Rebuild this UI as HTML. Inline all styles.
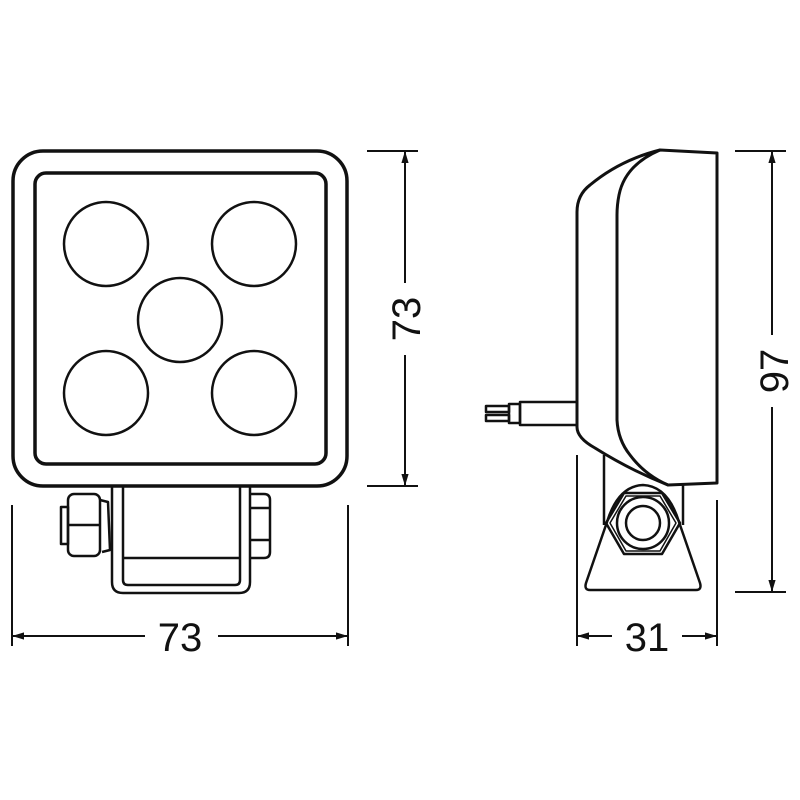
<!DOCTYPE html>
<html><head><meta charset="utf-8"><style>html,body{margin:0;padding:0;background:#fff}svg{display:block}</style></head>
<body>
<svg width="800" height="800" viewBox="0 0 800 800" xmlns="http://www.w3.org/2000/svg" fill="none" stroke="#111" stroke-linejoin="round">
<defs>
<marker id="a" markerWidth="12" markerHeight="20" refX="20" refY="6" viewBox="0 0 20 12" markerUnits="userSpaceOnUse" orient="auto-start-reverse"><path d="M0,0 L20,6 L0,12 Z" fill="#111" stroke="none"/></marker>
</defs>
<!-- front view -->
<rect x="13" y="151" width="334" height="335" rx="30" stroke-width="3.5"/>
<rect x="35" y="173" width="291" height="291" rx="11" stroke-width="3.5"/>
<g stroke-width="2.5">
<circle cx="106" cy="244" r="42"/><circle cx="254" cy="244" r="42"/>
<circle cx="180" cy="320" r="42"/>
<circle cx="106" cy="393" r="42"/><circle cx="254" cy="393" r="42"/>
</g>
<!-- front bracket -->
<g stroke-width="2.5">
<path d="M112,487 V582 Q112,593 123,593 H239 Q250,593 250,582 V487"/>
<path d="M123,487 V580 Q123,585 128,585 H235 Q240,585 240,580 V487"/>
<line x1="123" y1="558" x2="240" y2="558"/>
<rect x="68" y="494" width="32" height="62" rx="6"/>
<line x1="68" y1="525" x2="100" y2="525"/>
<rect x="61" y="507" width="7" height="37"/>
<path d="M100,500 L108,502 L110,550 L102,552"/>
<path d="M250,494 H264 Q270,494 270,500 V552 Q270,558 264,558 H250"/>
<line x1="250" y1="508" x2="270" y2="508"/>
<line x1="250" y1="540" x2="270" y2="540"/>
</g>
<!-- front dims -->
<g stroke-width="2">
<line x1="367" y1="151" x2="418" y2="151"/>
<line x1="367" y1="486" x2="418" y2="486"/>
<line x1="405" y1="283" x2="405" y2="151" marker-end="url(#a)"/>
<line x1="405" y1="355" x2="405" y2="486" marker-end="url(#a)"/>
<line x1="12" y1="505" x2="12" y2="646"/>
<line x1="348" y1="505" x2="348" y2="646"/>
<line x1="145" y1="636" x2="12" y2="636" marker-end="url(#a)"/>
<line x1="218" y1="636" x2="348" y2="636" marker-end="url(#a)"/>
</g>
<text x="180" y="651" font-family="Liberation Sans, sans-serif" font-size="40" fill="#111" stroke="none" text-anchor="middle">73</text>
<text transform="translate(420,319) rotate(-90)" font-family="Liberation Sans, sans-serif" font-size="40" fill="#111" stroke="none" text-anchor="middle">73</text>
<!-- side view -->
<g stroke-width="3">
<path d="M577,427 V212 Q577,195 590,185 Q620,160 660,150 L717,153 V483 L668,485 Q630,470 595,448 Q577,438 577,427 Z"/>
<path d="M660,150 Q625,165 619,195 Q617,205 617,215 V420 Q618,440 630,455 Q645,475 668,485"/>
</g>
<g stroke-width="2.5">
<rect x="520" y="402" width="57" height="23"/>
<rect x="509" y="404" width="11" height="19"/>
<rect x="486" y="406" width="23" height="6"/>
<rect x="486" y="415" width="23" height="6"/>
<line x1="604" y1="455" x2="604" y2="525"/>
<line x1="683" y1="485" x2="683" y2="525"/>
<path d="M590,590 Q584,590 586,583 L607,522 Q618,486 643,485 Q668,486 679,522 L700,583 Q702,590 696,590 Z"/>
<polygon points="606,523 624,493 662,493 680,523 662,554 624,554"/>
<polygon points="610,523 626,496 660,496 676,523 660,551 626,551" stroke-width="1.5"/>
<circle cx="643" cy="523" r="26"/>
<circle cx="643" cy="523" r="17"/>
</g>
<g stroke-width="2">
<line x1="577" y1="455" x2="577" y2="646"/>
<line x1="717" y1="500" x2="717" y2="646"/>
<line x1="612" y1="636" x2="577" y2="636" marker-end="url(#a)"/>
<line x1="682" y1="636" x2="717" y2="636" marker-end="url(#a)"/>
<line x1="735" y1="151" x2="786" y2="151"/>
<line x1="735" y1="592" x2="786" y2="592"/>
<line x1="772" y1="335" x2="772" y2="151" marker-end="url(#a)"/>
<line x1="772" y1="407" x2="772" y2="592" marker-end="url(#a)"/>
</g>
<text x="647" y="651" font-family="Liberation Sans, sans-serif" font-size="40" fill="#111" stroke="none" text-anchor="middle">31</text>
<text transform="translate(788,371) rotate(-90)" font-family="Liberation Sans, sans-serif" font-size="40" fill="#111" stroke="none" text-anchor="middle">97</text>
</svg>
</body></html>
